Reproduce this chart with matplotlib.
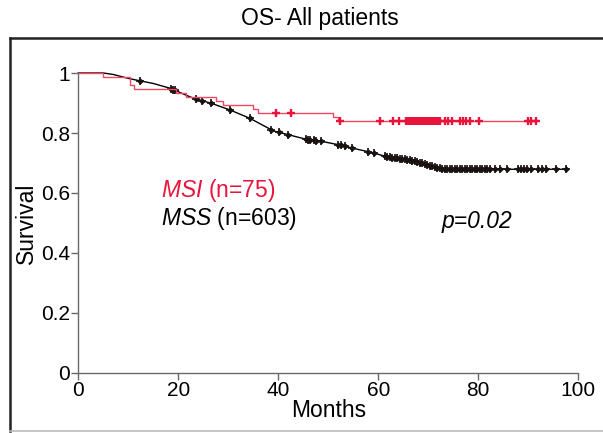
import numpy as np
import matplotlib
matplotlib.use('Agg')
import matplotlib.pyplot as plt
from matplotlib.lines import Line2D

plt.rcParams['font.family'] = ['Liberation Sans', 'DejaVu Sans']
plt.rcParams['mathtext.fontset'] = 'custom'
plt.rcParams['mathtext.rm'] = 'Liberation Sans'
plt.rcParams['mathtext.it'] = 'Liberation Sans:italic'

# MSI (n=75): Kaplan-Meier steps
msi_t = [0, 4.9, 10.3, 11.2, 19.5, 21.5, 27.6, 29.0, 35.0, 36.0, 51.0, 52.0, 91.6]
msi_s = [1.0, 0.987, 0.960, 0.947, 0.933, 0.920, 0.907, 0.893, 0.880, 0.867, 0.853, 0.840, 0.840]
msi_cens = [39.6, 42.6, 52.3, 60.3, 63.0, 64.2, 65.5, 65.9, 66.3, 66.7, 67.1, 67.5, 67.9,
            68.3, 68.7, 69.1, 69.5, 69.9, 70.3, 70.7, 71.1, 71.5, 71.9, 72.3, 73.3, 74.0,
            74.8, 76.3, 76.9, 77.5, 78.4, 80.2, 90.0, 90.6, 91.6]

# MSS (n=603): survival
mss_t = [0, 5, 7, 10, 12.3, 15, 18.6, 21, 23, 26.6, 30.3, 34.3, 37, 39, 42.3, 45.6,
         49, 52.3, 56, 59, 61.6, 65.6, 68.3, 70.5, 72.3, 75, 97.6]
mss_s = [1.0, 1.0, 0.995, 0.982, 0.974, 0.965, 0.948, 0.930, 0.916, 0.899, 0.877, 0.849,
         0.825, 0.807, 0.793, 0.779, 0.771, 0.760, 0.745, 0.734, 0.721, 0.712, 0.701,
         0.690, 0.682, 0.679, 0.679]
mss_cens = [12.3, 18.6, 19.0, 19.3, 23.6, 24.8, 26.6, 30.3, 34.3, 38.6, 40.1, 42.0, 45.6,
            46.0, 46.4, 47.2, 47.6, 48.6, 51.9, 52.5, 53.3, 54.8, 58.0, 59.1,
            61.3, 61.8, 62.3, 62.8, 63.3, 63.8, 64.3, 64.8, 65.3, 65.8, 66.3, 66.8, 67.3,
            67.8, 68.3, 68.8, 69.3, 69.8, 70.3, 70.8, 71.3, 71.8, 72.3, 72.8, 73.3, 73.8,
            74.3, 74.8, 75.3, 75.8, 76.3, 76.8, 77.3, 77.8, 78.3, 78.8, 79.3, 79.8, 80.3,
            80.8, 81.3, 81.8, 82.3, 83.3, 84.3, 85.7, 88.0, 88.6, 89.2, 89.8, 90.6,
            91.9, 92.8, 93.5, 95.6, 97.6]

x_ticks = [0, 20, 40, 60, 80, 100]
y_ticks = [0, 0.2, 0.4, 0.6, 0.8, 1]
y_tick_labels = ['0', '0.2', '0.4', '0.6', '0.8', '1']

RED_LINE = '#ec4a63'
RED = '#e8143c'
GREY = '#6a6a6a'

fig = plt.figure(figsize=(6.03, 4.33), dpi=100)
ax = fig.add_axes([0.130, 0.1386, 0.829, 0.6928])


def step_value(times, surv, t):
    idx = np.searchsorted(times, t, side='right') - 1
    return np.asarray(surv)[idx]


# MSS curve
ax.plot(mss_t, mss_s, color='black', lw=1.0, clip_on=False, zorder=3)
mss_cy = np.interp(mss_cens, mss_t, mss_s)
ax.plot(mss_cens, mss_cy, ls='none', marker='+', ms=5.5, mew=1.2, color='#1a1111',
        clip_on=False, zorder=4)
ax.plot(mss_cens, mss_cy, ls='none', marker='D', ms=2.4, color='#1a1111',
        clip_on=False, zorder=4)

# MSI curve
ax.plot(msi_t, msi_s, color=RED_LINE, lw=1.0, drawstyle='steps-post',
        clip_on=False, zorder=5)
msi_cy = step_value(msi_t, msi_s, msi_cens)
ax.plot(msi_cens, msi_cy, ls='none', marker='+', ms=6, mew=1.7, color=RED,
        clip_on=False, zorder=6)

ax.set_xlim(0, 100)
ax.set_ylim(0, 1)
ax.set_xticks(x_ticks)
ax.set_yticks(y_ticks)
ax.set_yticklabels(y_tick_labels)
for s in ['top', 'right']:
    ax.spines[s].set_visible(False)
for s in ['left', 'bottom']:
    ax.spines[s].set_color(GREY)
    ax.spines[s].set_linewidth(1.0)
ax.tick_params(direction='out', length=5, width=1, color=GREY, labelsize=15,
               pad=1)
ax.set_xlabel('Months', fontsize=16.5, labelpad=-1)
ax.set_ylabel('Survival', fontsize=16.5, labelpad=2)

ax.text(0.166, 0.608, r'$\mathit{MSI}$ (n=75)', color=RED, fontsize=16.5,
        transform=ax.transAxes, va='center')
ax.text(0.166, 0.516, r'$\mathit{MSS}$ (n=603)', color='black', fontsize=16.5,
        transform=ax.transAxes, va='center')
ax.text(0.727, 0.505, 'p=0.02', color='black', fontsize=16.5, style='italic',
        transform=ax.transAxes, va='center')

fig.text(320 / 603, 1 - 18 / 433, 'OS- All patients', fontsize=16.5,
         ha='center', va='center')

# outer frame
fig.add_artist(Line2D([10 / 603, 1.01], [1 - 38 / 433, 1 - 38 / 433],
                      transform=fig.transFigure, color='#222222', lw=1.8))
fig.add_artist(Line2D([10 / 603, 10 / 603], [1 - 38 / 433, 1 - 431 / 433],
                      transform=fig.transFigure, color='#222222', lw=1.8))
fig.add_artist(Line2D([10 / 603, 1.01], [1 - 431 / 433, 1 - 431 / 433],
                      transform=fig.transFigure, color='#bbbbbb', lw=1.2))

fig.savefig('out.png', dpi=100)
